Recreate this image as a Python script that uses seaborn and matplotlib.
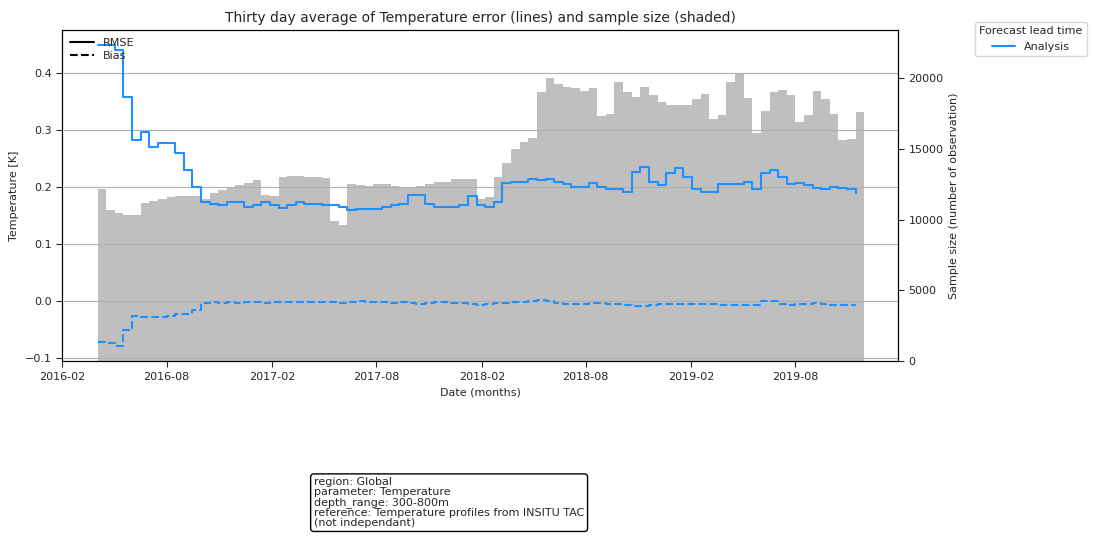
import pandas as pd
import numpy as np
import matplotlib
matplotlib.use("Agg")
import matplotlib.pyplot as plt
import matplotlib.dates as mdates
from matplotlib.lines import Line2D
import seaborn as sns

# values read every 15 days from 2016-04-03
start_date = "2016-04-03"
sample_size = [12150, 10670, 10450, 10350, 10300, 11200, 11350, 11500, 11600, 11650,
               11700, 11650, 11500, 11900, 12100, 12300, 12450, 12600, 12800, 11750,
               11700, 13050, 13100, 13100, 13050, 13000, 12950, 9900, 9600, 12500,
               12450, 12400, 12500, 12550, 12400, 12300, 12300, 12350, 12500, 12650,
               12700, 12850, 12900, 12900, 11500, 11600, 13000, 14000, 15000, 15500,
               15800, 19000, 20000, 19600, 19400, 19300, 19100, 19300, 17300, 17500,
               19700, 19000, 18700, 19400, 18800, 18300, 18100, 18100, 18100, 18500,
               18900, 17100, 17400, 19700, 20300, 18600, 16100, 17700, 19000, 19200,
               18800, 16900, 17400, 19100, 18500, 17500, 15600, 15700, 17600]
rmse = [0.449, 0.45, 0.44, 0.358, 0.282, 0.297, 0.271, 0.277, 0.277, 0.26,
        0.23, 0.20, 0.174, 0.171, 0.168, 0.174, 0.174, 0.165, 0.168, 0.174,
        0.168, 0.163, 0.168, 0.174, 0.171, 0.17, 0.168, 0.168, 0.165, 0.16,
        0.161, 0.161, 0.161, 0.165, 0.168, 0.171, 0.186, 0.186, 0.17, 0.165,
        0.165, 0.165, 0.168, 0.185, 0.168, 0.165, 0.174, 0.207, 0.209, 0.209,
        0.215, 0.213, 0.215, 0.209, 0.205, 0.2, 0.2, 0.207, 0.2, 0.196,
        0.196, 0.192, 0.227, 0.236, 0.209, 0.203, 0.224, 0.233, 0.218, 0.196,
        0.192, 0.192, 0.205, 0.205, 0.205, 0.209, 0.196, 0.224, 0.23, 0.218,
        0.205, 0.207, 0.203, 0.198, 0.196, 0.2, 0.198, 0.196, 0.19]
bias = [-0.071, -0.073, -0.078, -0.051, -0.026, -0.027, -0.028, -0.027, -0.025, -0.022,
        -0.022, -0.016, -0.003, -0.002, -0.003, -0.002, -0.003, -0.002, -0.002, -0.003,
        -0.002, -0.002, -0.001, -0.002, -0.002, -0.001, -0.002, -0.002, -0.003, -0.001,
        0.0, -0.001, -0.002, -0.002, -0.003, -0.002, -0.003, -0.004, -0.003, -0.002,
        -0.002, -0.003, -0.003, -0.004, -0.006, -0.005, -0.003, -0.003, -0.002, -0.001,
        0.001, 0.002, 0.0, -0.003, -0.004, -0.005, -0.005, -0.003, -0.003, -0.004,
        -0.005, -0.006, -0.008, -0.009, -0.007, -0.005, -0.005, -0.004, -0.004, -0.005,
        -0.004, -0.004, -0.006, -0.007, -0.007, -0.006, -0.006, 0.001, 0.0, -0.005,
        -0.006, -0.004, -0.004, -0.003, -0.005, -0.006, -0.006, -0.006, -0.007]

dates = pd.date_range(start_date, periods=len(sample_size), freq="15D")
df = pd.DataFrame({"date": dates, "n": sample_size, "rmse": rmse, "bias": bias})

sns.set_style("white")
plt.rcParams["font.family"] = ["DejaVu Sans"]
plt.rcParams["font.size"] = 8

fig = plt.figure(figsize=(10.94, 5.40), dpi=100)
ax = fig.add_axes([0.0567, 0.331, 0.7643, 0.613])
ax2 = ax.twinx()

ax2.bar(df["date"], df["n"], width=15, align="edge", color="#bfbfbf", linewidth=0)
ax2.set_ylim(0, 23390)
ax2.set_ylabel("Sample size (number of observation)", fontsize=8)

ax.set_zorder(ax2.get_zorder() + 1)
ax.patch.set_visible(False)
sns.lineplot(data=df, x="date", y="rmse", ax=ax, color="#1e90ff", drawstyle="steps-post", linewidth=1.5)
sns.lineplot(data=df, x="date", y="bias", ax=ax, color="#1e90ff", drawstyle="steps-post",
             linestyle="--", linewidth=1.5)
ax.set_ylim(-0.105, 0.475)
ax.set_xlim(pd.Timestamp("2016-02-01"), pd.Timestamp("2020-01-27"))
ax.yaxis.grid(True, color="#b0b0b0", linewidth=0.8)
ax.set_yticks([-0.1, 0.0, 0.1, 0.2, 0.3, 0.4])
ax.xaxis.set_major_locator(mdates.MonthLocator(bymonth=[2, 8]))
ax.xaxis.set_major_formatter(mdates.DateFormatter("%Y-%m"))
ax.set_xlabel("Date (months)", fontsize=8)
ax.set_ylabel("Temperature [K]", fontsize=8)
ax.set_title("Thirty day average of Temperature error (lines) and sample size (shaded)", fontsize=10)
for a in (ax, ax2):
    a.tick_params(labelsize=8, length=4, direction="out", left=(a is ax), right=(a is ax2), bottom=True)
    for s in a.spines.values():
        s.set_color("black")

style_handles = [Line2D([], [], color="black", linestyle="-"), Line2D([], [], color="black", linestyle="--")]
ax.legend(style_handles, ["RMSE", "Bias"], loc="upper left", frameon=False, fontsize=8,
          handlelength=2.2, borderaxespad=0.3, labelspacing=0.3)

fig.legend([Line2D([], [], color="#1e90ff")], ["Analysis"], title="Forecast lead time",
           loc="upper left", bbox_to_anchor=(0.886, 0.97), fontsize=8, title_fontsize=8)

info = ("region: Global\nparameter: Temperature\ndepth_range: 300-800m\n"
        "reference: Temperature profiles from INSITU TAC\n(not independant)")
fig.text(0.287, 0.022, info, fontsize=8, va="bottom", ha="left", linespacing=1.0,
         bbox=dict(boxstyle="round,pad=0.3", facecolor="white", edgecolor="black"))

fig.savefig("out.png", dpi=100)
